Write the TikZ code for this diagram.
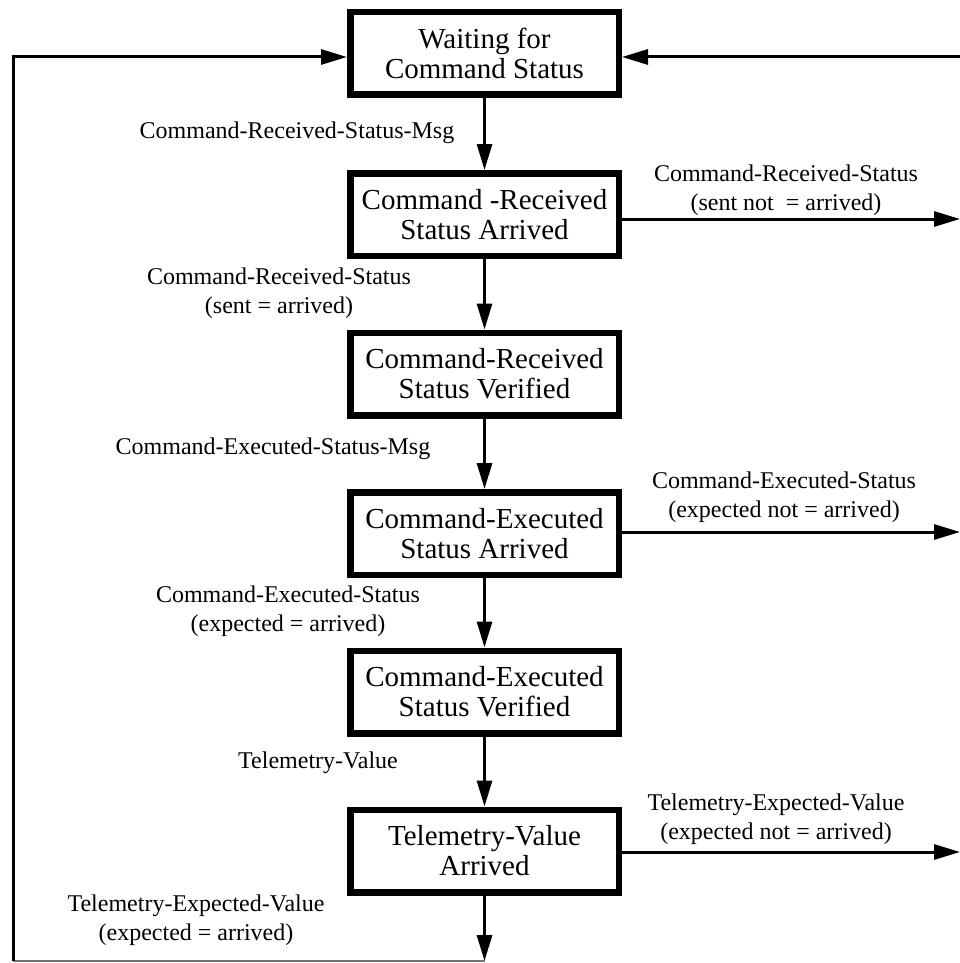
\documentclass[tikz,border=0pt]{standalone}
\usepackage{fontspec}
\setmainfont{Liberation Serif}
\usetikzlibrary{arrows.meta}

\begin{document}
\begin{tikzpicture}[x=1pt,y=-1pt,
  state/.style={draw,line width=6.5pt,minimum width=268.5pt,minimum height=82.5pt,
    inner sep=0pt,align=center,font=\fontsize{29}{30}\selectfont},
  lbl/.style={align=center,inner sep=0pt,font=\fontsize{24}{29}\selectfont},
  conn/.style={line width=3pt,-{Triangle[length=26pt,width=15pt]}},
  wire/.style={line width=3pt},
  baseline/.style={line width=1.5pt,black!55}]
\useasboundingbox (0,0) rectangle (960,963);

% states, top to bottom
\node[state] (b1) at (484.5,53.5)  {Waiting for\\Command Status};
\node[state] (b2) at (484.5,214.5) {Command -Received\\Status Arrived};
\node[state] (b3) at (484.5,374)   {Command-Received\\Status Verified};
\node[state] (b4) at (484.5,533.5) {Command-Executed\\Status Arrived};
\node[state] (b5) at (484.5,692)   {Command-Executed\\Status Verified};
\node[state] (b6) at (484.5,851)   {Telemetry-Value\\Arrived};

% transition labels
\node[lbl] (l1) at (297,133) {Command-Received-Status-Msg};
\node[lbl] (l2) at (279,293) {Command-Received-Status\\(sent = arrived)};
\node[lbl] (l3) at (273,449) {Command-Executed-Status-Msg};
\node[lbl] (l4) at (288,611) {Command-Executed-Status\\(expected = arrived)};
\node[lbl] (l5) at (318,763) {Telemetry-Value};
\node[lbl] (l6) at (196,920) {Telemetry-Expected-Value\\(expected = arrived)};
\node[lbl] (r1) at (786,190) {Command-Received-Status\\(sent not\ \ = arrived)};
\node[lbl] (r2) at (784,497) {Command-Executed-Status\\(expected not = arrived)};
\node[lbl] (r3) at (776,819) {Telemetry-Expected-Value\\(expected not = arrived)};

% end points of the open connectors
\coordinate (rt) at (960,57);
\coordinate (tl) at (13,57);
\coordinate (lc) at (13,961);
\coordinate (bot) at (485,961);
\coordinate (x1) at (960,219);
\coordinate (x2) at (960,532);
\coordinate (x3) at (960,852);

% main sequence
\draw[conn] (b1) -- (b2);
\draw[conn] (b2) -- (b3);
\draw[conn] (b3) -- (b4);
\draw[conn] (b4) -- (b5);
\draw[conn] (b5) -- (b6);
\draw[conn] (b6) -- (b6.south |- bot);

% failure exits
\draw[conn] (b2.east |- x1) -- (x1);
\draw[conn] (b4.east |- x2) -- (x2);
\draw[conn] (b6.east |- x3) -- (x3);

% return paths to the waiting state
\draw[conn] (rt) -- (b1.east |- rt);
\draw[baseline] (bot) -- (lc);
\draw[wire] (lc) -- (tl);
\draw[conn] ([xshift=-1.5pt]tl) -- (b1.west |- tl);
\end{tikzpicture}
\end{document}
